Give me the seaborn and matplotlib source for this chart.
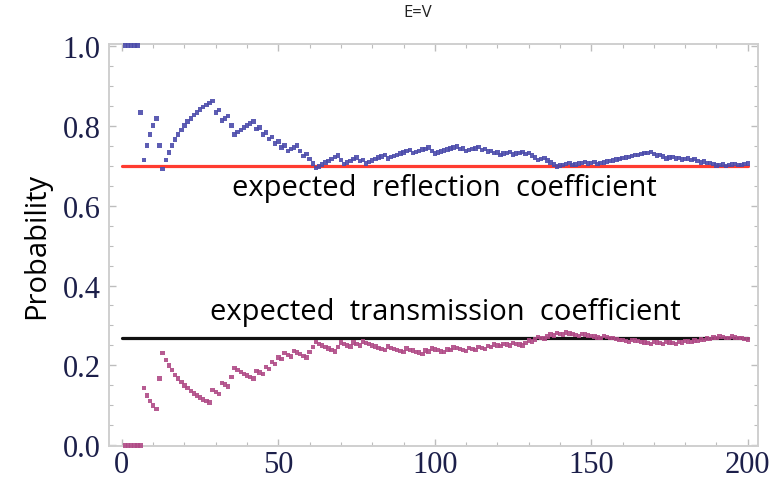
import numpy as np
import pandas as pd
import matplotlib
matplotlib.use("Agg")
import matplotlib.pyplot as plt
import seaborn as sns

# Running estimate of the reflection probability after each trial
reflection = [
    1.0, 1.0, 1.0, 1.0, 1.0, 0.833, 0.714, 0.75, 0.778, 0.8,
    0.818, 0.75, 0.692, 0.714, 0.733, 0.75, 0.765, 0.778, 0.789, 0.8,
    0.81, 0.818, 0.826, 0.833, 0.84, 0.846, 0.852, 0.857, 0.862, 0.833,
    0.839, 0.813, 0.818, 0.824, 0.8, 0.778, 0.784, 0.789, 0.795, 0.8,
    0.805, 0.81, 0.791, 0.795, 0.778, 0.783, 0.766, 0.771, 0.755, 0.76,
    0.745, 0.75, 0.736, 0.741, 0.745, 0.75, 0.737, 0.724, 0.729, 0.717,
    0.705, 0.694, 0.698, 0.703, 0.708, 0.712, 0.716, 0.721, 0.725, 0.714,
    0.704, 0.708, 0.712, 0.716, 0.72, 0.711, 0.714, 0.705, 0.709, 0.713,
    0.716, 0.72, 0.723, 0.726, 0.718, 0.721, 0.724, 0.727, 0.73, 0.733,
    0.736, 0.739, 0.731, 0.734, 0.737, 0.74, 0.742, 0.745, 0.737, 0.73,
    0.733, 0.735, 0.738, 0.74, 0.743, 0.745, 0.748, 0.741, 0.743, 0.736,
    0.739, 0.741, 0.743, 0.746, 0.739, 0.741, 0.735, 0.737, 0.731, 0.733,
    0.727, 0.73, 0.732, 0.734, 0.728, 0.73, 0.732, 0.734, 0.729, 0.731,
    0.725, 0.72, 0.714, 0.716, 0.719, 0.713, 0.708, 0.703, 0.698, 0.7,
    0.702, 0.704, 0.706, 0.701, 0.703, 0.705, 0.707, 0.709, 0.705, 0.707,
    0.709, 0.704, 0.706, 0.708, 0.71, 0.712, 0.713, 0.715, 0.717, 0.719,
    0.72, 0.722, 0.724, 0.726, 0.727, 0.729, 0.731, 0.732, 0.734, 0.729,
    0.725, 0.727, 0.723, 0.718, 0.72, 0.722, 0.718, 0.719, 0.715, 0.717,
    0.718, 0.714, 0.716, 0.712, 0.708, 0.71, 0.706, 0.707, 0.704, 0.7,
    0.702, 0.703, 0.699, 0.701, 0.703, 0.704, 0.701, 0.702, 0.704, 0.705,
]

# Running estimate of the transmission probability after each trial
transmission = [
    0.0, 0.0, 0.0, 0.0, 0.0, 0.0, 0.143, 0.125, 0.111, 0.1,
    0.091, 0.167, 0.231, 0.214, 0.2, 0.188, 0.176, 0.167, 0.158, 0.15,
    0.143, 0.136, 0.13, 0.125, 0.12, 0.115, 0.111, 0.107, 0.138, 0.133,
    0.129, 0.156, 0.152, 0.147, 0.171, 0.194, 0.189, 0.184, 0.179, 0.175,
    0.171, 0.167, 0.186, 0.182, 0.178, 0.196, 0.191, 0.208, 0.204, 0.22,
    0.216, 0.231, 0.226, 0.222, 0.236, 0.232, 0.228, 0.224, 0.22, 0.233,
    0.246, 0.258, 0.254, 0.25, 0.246, 0.242, 0.239, 0.235, 0.246, 0.257,
    0.254, 0.25, 0.247, 0.257, 0.253, 0.25, 0.26, 0.256, 0.253, 0.25,
    0.247, 0.244, 0.241, 0.238, 0.247, 0.244, 0.241, 0.239, 0.236, 0.233,
    0.242, 0.239, 0.237, 0.234, 0.232, 0.229, 0.237, 0.235, 0.242, 0.24,
    0.238, 0.235, 0.233, 0.24, 0.238, 0.245, 0.243, 0.241, 0.239, 0.236,
    0.243, 0.241, 0.239, 0.246, 0.243, 0.241, 0.248, 0.246, 0.252, 0.25,
    0.248, 0.254, 0.252, 0.25, 0.256, 0.254, 0.252, 0.25, 0.256, 0.262,
    0.26, 0.265, 0.271, 0.269, 0.267, 0.272, 0.277, 0.275, 0.281, 0.279,
    0.277, 0.282, 0.28, 0.278, 0.276, 0.274, 0.279, 0.277, 0.275, 0.273,
    0.272, 0.27, 0.268, 0.273, 0.271, 0.269, 0.268, 0.266, 0.264, 0.263,
    0.261, 0.259, 0.264, 0.262, 0.261, 0.259, 0.257, 0.256, 0.254, 0.259,
    0.257, 0.256, 0.254, 0.259, 0.257, 0.256, 0.254, 0.258, 0.257, 0.261,
    0.26, 0.258, 0.262, 0.261, 0.265, 0.263, 0.267, 0.266, 0.27, 0.268,
    0.272, 0.271, 0.269, 0.268, 0.272, 0.27, 0.269, 0.268, 0.266, 0.265,
]

expected_reflection = 0.70
expected_transmission = 0.268
x_ticks = [0, 50, 100, 150, 200]
y_ticks = [0.0, 0.2, 0.4, 0.6, 0.8, 1.0]

trials = np.arange(1, len(reflection) + 1)
df = pd.DataFrame({
    "trial": np.concatenate([trials, trials]),
    "probability": reflection + transmission,
    "outcome": ["reflection"] * len(reflection) + ["transmission"] * len(transmission),
})
ref_lines = pd.DataFrame({
    "trial": [0, 200, 0, 200],
    "probability": [expected_reflection] * 2 + [expected_transmission] * 2,
    "kind": ["R", "R", "T", "T"],
})

sns.set_style("white")
fig = plt.figure(figsize=(7.78, 4.81), dpi=100)
ax = fig.add_axes([0.140, 0.0707, 0.834, 0.8357])

sns.lineplot(data=ref_lines, x="trial", y="probability", hue="kind",
             palette={"R": "#ff3b30", "T": "#111111"}, linewidth=2.3,
             legend=False, ax=ax, zorder=2)
sns.scatterplot(data=df, x="trial", y="probability", hue="outcome",
                palette={"reflection": "#4b4bab", "transmission": "#b04a86"},
                marker="s", s=10, linewidth=0, alpha=0.9, legend=False,
                ax=ax, zorder=3, clip_on=False)

ax.set_xlim(-4.15, 203.2)
ax.set_ylim(-0.0013, 1.0038)

tick_font = dict(family="Liberation Serif", size=22)
ax.set_xticks(x_ticks)
ax.set_xticklabels([str(t) for t in x_ticks], fontdict=tick_font, color="#1c1f4a")
ax.set_yticks(y_ticks)
ax.set_yticklabels([f"{t:.1f}" for t in y_ticks], fontdict=tick_font, color="#1c1f4a")
ax.set_xticks(np.arange(0, 201, 10), minor=True)
ax.set_yticks(np.arange(0, 1.001, 0.05), minor=True)
ax.tick_params(which="both", direction="in", colors="#bdbdbd",
               top=True, right=True, left=True, bottom=True)
ax.tick_params(which="major", length=5, width=1.0, labelcolor="#1c1f4a")
ax.tick_params(axis="y", which="major", pad=6)
ax.tick_params(axis="x", which="major", pad=3)
ax.tick_params(which="minor", length=3, width=0.8)
for sp in ax.spines.values():
    sp.set_color("#cfcfcf")
    sp.set_linewidth(1.4)

ax.set_xlabel("")
ax.set_ylabel("Probability", family="Open Sans", fontsize=21, color="black",
              labelpad=8)

ax.text(102.9, 0.646, "expected  reflection  coefficient", family="Open Sans",
        fontsize=21, ha="center", va="center", color="black")
ax.text(103.5, 0.334, "expected  transmission  coefficient", family="Open Sans",
        fontsize=21, ha="center", va="center", color="black")

fig.text(418 / 778, 1 - 13 / 481, "E=V", family="Open Sans", fontsize=12,
         ha="center", va="center", color="#222222")

fig.savefig("out.png", dpi=100)
